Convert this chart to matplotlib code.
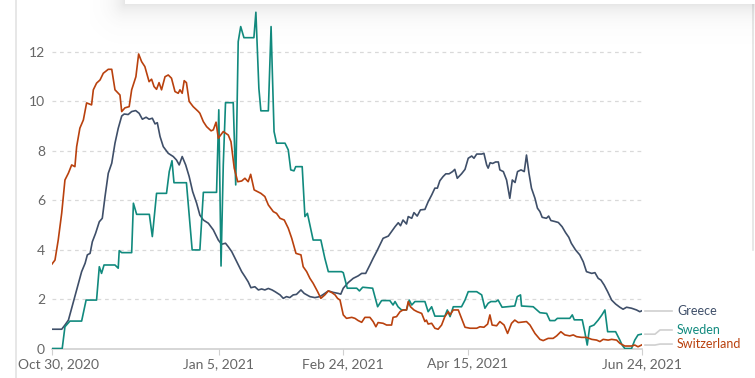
import matplotlib
matplotlib.use("Agg")
import matplotlib.pyplot as plt
import matplotlib.transforms as mtransforms
import numpy as np
import pandas as pd

plt.rcParams["font.family"] = ["Lato", "DejaVu Sans"]

START = pd.Timestamp("2020-10-30")

# day offsets from Oct 30 2020 and values
greece_days = [0, 3.9, 5.2, 6.6, 7.9, 9.2, 10.6, 11.9, 13.3, 14.2, 15.3, 16.2, 17.5, 19, 20.2, 21.3,
               22.6, 24, 25.3, 26.6, 28, 29, 30.6, 32, 33.6, 35, 36.3, 37.8, 39, 40.3, 41.4, 42.3,
               43.4, 44.7, 46.7, 48.7, 50, 51.1, 52.3, 53.7, 55.1, 56.5, 58.1, 59.4, 60.8, 62.8,
               64.8, 66.8, 68.1, 69.7, 70.8, 72.2, 74.2, 76.2, 77.5, 78.8, 79.9, 81.5, 82.9, 84.2,
               85.5, 86.9, 88.4, 89.6, 91.6, 92.9, 94.2, 95.5, 96.9, 98.2, 100, 101.3, 103.6,
               105.6, 107.6, 109, 111, 113, 115, 116, 117, 119, 121, 123, 124.4, 126, 127.7, 129,
               130.4, 131.7, 133, 135.1, 136.4, 137.8, 139.1, 140, 141, 142.4, 143.1, 144.5,
               145.4, 146.7, 148, 149.8, 151.1, 152.5, 153.8, 154.8, 155.8, 157.1, 158.2, 159.5,
               160.9, 161.8, 162.8, 164.5, 165.9, 167.2, 168.6, 169.5, 170.6, 172.6, 173.5,
               174.6, 175.2, 176, 177, 178.2, 179.3, 179.9, 181.3, 182.6, 183.9, 184.9, 186, 187,
               188.4, 189.7, 190.6, 191.6, 192.6, 194, 195, 196, 196.9, 198.6, 199.5, 200.4, 202,
               203.4, 204.9, 206.3, 207.6, 208.6, 210.3, 212, 213.4, 214.7, 216.8, 218.1, 219.4,
               220.5, 221.8, 223.2, 224.8, 226.4, 228.1, 229.4, 230.8, 232.8, 234.8, 236.1, 236.8]
greece_vals = [0.78, 0.78, 0.95, 1.15, 1.63, 2.1, 2.64, 3.11, 3.45, 3.79, 3.85, 4.32, 4.66, 5.13,
               5.27, 6.15, 7.09, 7.5, 8.31, 8.91, 9.41, 9.49, 9.47, 9.59, 9.63, 9.52, 9.28, 9.36,
               9.28, 9.32, 9.09, 9.14, 8.58, 8.17, 7.9, 7.77, 7.63, 7.43, 7.77, 7.43, 6.96, 6.35,
               5.88, 5.4, 5.2, 5.07, 4.8, 4.39, 4.22, 4.26, 4.12, 3.92, 3.51, 3.11, 2.91, 2.7,
               2.46, 2.5, 2.37, 2.41, 2.37, 2.43, 2.37, 2.3, 2.17, 2.03, 2.1, 2.06, 2.17, 2.19,
               2.37, 2.23, 2.1, 2.06, 2.1, 2.19, 2.33, 2.27, 2.23, 2.2, 2.44, 2.67, 2.84, 2.94,
               3.04, 3.04, 3.38, 3.65, 3.92, 4.19, 4.46, 4.55, 4.73, 4.93, 5.09, 4.97, 5.2, 5.04,
               5.34, 5.27, 5.5, 5.36, 5.61, 5.63, 5.94, 6.21, 6.49, 6.49, 6.79, 6.96, 7.07, 7.07,
               7.16, 7.25, 6.89, 7.07, 7.25, 7.7, 7.79, 7.7, 7.87, 7.87, 7.9, 7.43, 7.3, 7.52,
               7.49, 7.55, 7.55, 7.23, 7.16, 6.82, 6.08, 6.82, 6.72, 7.16, 7.23, 7.16, 7.83, 7.09,
               6.49, 6.08, 5.68, 5.54, 5.31, 5.27, 5.36, 5.18, 5.14, 5.1, 4.93, 4.69, 4.5, 4.26,
               3.99, 3.79, 3.51, 3.11, 3.04, 3.07, 2.84, 2.77, 2.57, 2.3, 1.96, 1.8, 1.67, 1.59,
               1.67, 1.63, 1.56, 1.49, 1.52]

sweden_days = [0, 4.1, 5.2, 7.2, 11.9, 13.7, 17.9, 19, 19.9, 20.9, 25.3, 26.6, 27, 28, 32, 32.7,
               34, 39.1, 40.3, 42, 46, 47.1, 48.2, 49, 54, 56.3, 59.4, 60.8, 66.1, 67, 67.9, 68.8,
               69.7, 72.8, 73.8, 74.8, 75.8, 77.1, 81.1, 81.9, 83.1, 83.9, 86.9, 88, 88.5, 89.2,
               90.2, 93.6, 94.9, 95.9, 97.2, 97.9, 100.5, 101.6, 102.6, 104.9, 108, 109.6, 111,
               116.3, 117, 118.6, 122.4, 123.5, 124.8, 128.8, 129.7, 130.8, 132.4, 135.7, 137,
               137.8, 139, 140.4, 142.4, 143.5, 144.5, 145.8, 149.8, 151.1, 152.5, 153.8, 157.8,
               158.8, 159.9, 161.2, 164.5, 165.9, 167.2, 170.6, 172.6, 173.9, 175.2, 176.3, 178.3,
               179.2, 180.8, 185.9, 186.9, 188.2, 188.6, 193.3, 196, 198.7, 200, 202, 203, 208,
               209, 209.8, 213, 214, 215, 216, 217.7, 219.4, 220.9, 222.1, 223.2, 226.4, 228.1,
               229, 230.1, 232.8, 234.1, 235.4, 236.8]
sweden_vals = [0, 0, 0.88, 1.11, 1.11, 1.96, 1.96, 3.31, 3.04, 3.38, 3.38, 3.25, 3.96, 3.88, 3.88,
               5.88, 5.43, 5.43, 4.53, 6.28, 6.28, 7.16, 7.6, 6.71, 6.71, 3.99, 3.99, 6.32, 6.32,
               9.66, 3.34, 7.43, 9.95, 9.95, 6.62, 12.42, 13.03, 12.58, 12.58, 13.61, 10.53, 9.62,
               9.62, 13.03, 11.21, 8.78, 8.31, 8.31, 8.04, 7.23, 7.19, 7.36, 7.36, 5.34, 5.47,
               4.39, 4.39, 3.65, 3.11, 3.11, 3.07, 2.44, 2.44, 2.33, 2.48, 2.44, 2.1, 1.69, 1.94,
               1.94, 1.76, 1.9, 1.69, 1.56, 1.56, 1.96, 1.76, 1.9, 1.9, 1.49, 1.69, 1.31, 1.31,
               1.56, 1.29, 1.69, 1.69, 1.96, 2.3, 2.3, 2.17, 1.63, 1.83, 1.9, 1.9, 1.96, 1.67,
               1.72, 2.1, 2.17, 1.72, 1.69, 1.45, 1.42, 1.13, 1.13, 1.22, 1.22, 1.36, 1.16, 1.16,
               0.68, 0.14, 0.88, 0.95, 1.15, 1.36, 1.56, 0.68, 0.68, 0.34, 0.14, 0, 0, 0.34, 0.55,
               0.58]

swiss_days = [0, 1.2, 2.5, 3.9, 5.2, 6.6, 7.9, 9.2, 9.9, 11.2, 12.6, 13.9, 15.9, 16.6, 17.9, 19.3,
              20.6, 22.6, 24, 25.3, 26.6, 27.3, 28, 29.3, 31, 32, 33.7, 34.8, 36, 37.3, 39, 40,
              41, 42, 43, 44, 45.4, 46.7, 48, 49.4, 50.7, 51.4, 52.3, 53.1, 54, 55.1, 56.7, 58.8,
              59.4, 60.8, 62.1, 63.9, 64.8, 65.9, 66.8, 68.8, 70.8, 71.9, 73.2, 74.6, 76.2, 77.5,
              78.8, 79.8, 81.2, 82.6, 83.9, 85.5, 86.9, 88.9, 90.2, 91.6, 93.3, 94.9, 96.3, 98,
              100, 100.9, 102.3, 103.6, 104.9, 106.7, 108, 109.6, 111, 112.3, 113.7, 114.7, 115.7,
              117, 118.3, 120.4, 121.7, 123, 124.4, 125.7, 127.7, 129, 130.1, 131, 133, 134.4,
              136.4, 137, 138.4, 139.8, 141, 142.4, 143.1, 144, 145.4, 146.7, 148.5, 149.8, 150.4,
              151.1, 152.5, 153.8, 155.1, 156.5, 157.8, 159.2, 159.9, 161.2, 163.2, 164.5, 165.9,
              167.9, 170.6, 171.9, 173.5, 175, 175.9, 176.8, 178.6, 179.9, 181.6, 183, 184.6,
              185.9, 187.3, 190.6, 192, 194, 196, 197.3, 199.3, 201.3, 202.7, 204.4, 206, 208,
              209.4, 210.7, 212.7, 214.7, 216.8, 218.8, 220.1, 221.4, 223.4, 224.8, 226.8, 228.1,
              230.1, 232.8, 234.1, 235.4, 236.8]
swiss_vals = [3.42, 3.58, 4.39, 5.48, 6.82, 7.1, 7.43, 7.36, 8.17, 8.92, 9.25, 9.94, 9.86, 10.47,
              10.74, 10.87, 11.14, 11.3, 11.3, 10.47, 10.33, 10.26, 9.59, 9.74, 9.79, 10.47, 11.0,
              11.92, 11.61, 11.41, 10.8, 10.9, 10.6, 10.49, 10.76, 10.47, 11.0, 11.07, 10.94,
              10.4, 10.33, 10.47, 10.33, 10.84, 10.76, 10.0, 9.79, 9.59, 9.52, 9.18, 8.98, 8.81,
              8.85, 9.16, 8.51, 8.78, 8.64, 8.37, 7.3, 6.75, 6.78, 6.89, 6.75, 7.05, 6.42, 6.35,
              6.28, 6.15, 5.81, 5.54, 5.47, 5.27, 5.2, 4.87, 4.46, 3.85, 3.79, 3.31, 3.11, 2.84,
              2.64, 2.3, 2.03, 2.17, 2.33, 2.27, 2.17, 2.03, 1.96, 1.36, 1.22, 1.26, 1.22, 1.13,
              1.06, 1.26, 1.26, 1.09, 0.88, 1.05, 1.02, 0.95, 0.95, 1.26, 1.29, 1.49, 1.56, 1.56,
              1.9, 1.69, 1.56, 1.49, 1.42, 1.09, 1.15, 0.99, 1.02, 0.82, 0.78, 0.95, 1.29, 1.49,
              1.36, 1.56, 1.56, 1.22, 0.86, 0.82, 0.82, 0.88, 0.86, 0.99, 1.36, 0.95, 0.92, 1.09,
              0.95, 0.61, 1.02, 1.15, 1.05, 1.09, 0.95, 0.61, 0.37, 0.32, 0.41, 0.41, 0.51, 0.68,
              0.55, 0.51, 0.55, 0.48, 0.45, 0.45, 0.37, 0.34, 0.28, 0.37, 0.34, 0.37, 0.34, 0.21,
              0.1, 0.1, 0.14, 0.07, 0.14]

tick_dates = ["2020-10-30", "2021-01-05", "2021-02-24", "2021-04-15", "2021-06-24"]
tick_labels = ["Oct 30, 2020", "Jan 5, 2021", "Feb 24, 2021", "Apr 15, 2021", "Jun 24, 2021"]
y_ticks = [0, 2, 4, 6, 8, 10, 12]

C_GREECE = "#3f4f69"
C_SWEDEN = "#118a7e"
C_SWISS = "#b9410e"

W, H = 755, 378
fig = plt.figure(figsize=(W / 100, H / 100), dpi=100)
fig.patch.set_facecolor("white")


def px_box(x0, y0, x1, y1):
    # pixel box (top-left origin) -> figure fraction rect
    return [x0 / W, 1 - y1 / H, (x1 - x0) / W, (y1 - y0) / H]


ax = fig.add_axes(px_box(52, 2.6, 642, 348.5))
tick_x = [(pd.Timestamp(d) - START).days for d in tick_dates]
xmax = tick_x[-1]

ax.plot(greece_days, greece_vals, color=C_GREECE, lw=1.2, zorder=3)
ax.plot(sweden_days, sweden_vals, color=C_SWEDEN, lw=1.2, zorder=3)
ax.plot(swiss_days, swiss_vals, color=C_SWISS, lw=1.2, zorder=3)

ax.set_xlim(0, xmax)
ax.set_ylim(0, 14)
for s in ["top", "right", "left"]:
    ax.spines[s].set_visible(False)
ax.spines["bottom"].set_color("#d0d0d0")
ax.spines["bottom"].set_linewidth(1.2)

ax.set_yticks(y_ticks)
ax.tick_params(axis="y", length=0, pad=5, labelsize=10, labelcolor="#666666")
ax.set_xticks(tick_x)
ax.set_xticklabels(tick_labels)
ax.tick_params(axis="x", length=4, color="#d0d0d0", pad=3, labelsize=10, labelcolor="#666666")
# first date label sits a bit right of its tick
first = ax.get_xticklabels()[0]
first.set_transform(first.get_transform() + mtransforms.ScaledTranslation(6 / 100, 0, fig.dpi_scale_trans))
for y in y_ticks[1:]:
    ax.axhline(y, color="#d9d9d9", lw=0.9, ls=(0, (3, 3)), zorder=1)

# end labels with elbow connectors
trans = mtransforms.blended_transform_factory(ax.transAxes, ax.transData)
aw = 590.0
def fx(px):
    return (px - 52) / aw

labels = [("Greece", C_GREECE, greece_vals[-1], 1.52),
          ("Sweden", C_SWEDEN, sweden_vals[-1], 0.75),
          ("Switzerland", C_SWISS, swiss_vals[-1], 0.18)]
for name, col, y0, y1 in labels:
    ax.plot([fx(645), fx(655), fx(660), fx(672)], [y0, y0, y1, y1], transform=trans,
            color="#d0d0d0", lw=1.2, clip_on=False)
    ax.text(fx(677), y1, name, transform=trans, color=col, fontsize=9,
            va="center", ha="left", clip_on=False)

# card border on the left and right
fig.add_artist(plt.Line2D([16 / W, 16 / W], [0, 1], color="#e3e3e3", lw=1.2))
fig.add_artist(plt.Line2D([753 / W, 753 / W], [1 - 250 / H, 1], color="#e3e3e3", lw=1.2))

# shadow of the popup box at the top
sax = fig.add_axes(px_box(90, 0, W, 45), zorder=10)
gx = np.arange(90, W) + 0.5
gy = np.arange(0, 45) + 0.5
X, Y = np.meshgrid(gx, gy)
dx = np.clip(125 - X, 0, None)
dy = np.clip(Y - 4, 0, None)
d = np.sqrt(dx ** 2 + dy ** 2)
alpha = 0.15 * np.exp(-d / 11.0)
img = np.zeros((len(gy), len(gx), 4))
img[..., :3] = 0.35
img[..., 3] = alpha
inside = (X >= 125) & (Y <= 4)
img[inside] = [1, 1, 1, 1]
sax.imshow(img, extent=(0, 1, 0, 1), aspect="auto", interpolation="bilinear")
sax.axis("off")

fig.savefig("out.png", dpi=100)
